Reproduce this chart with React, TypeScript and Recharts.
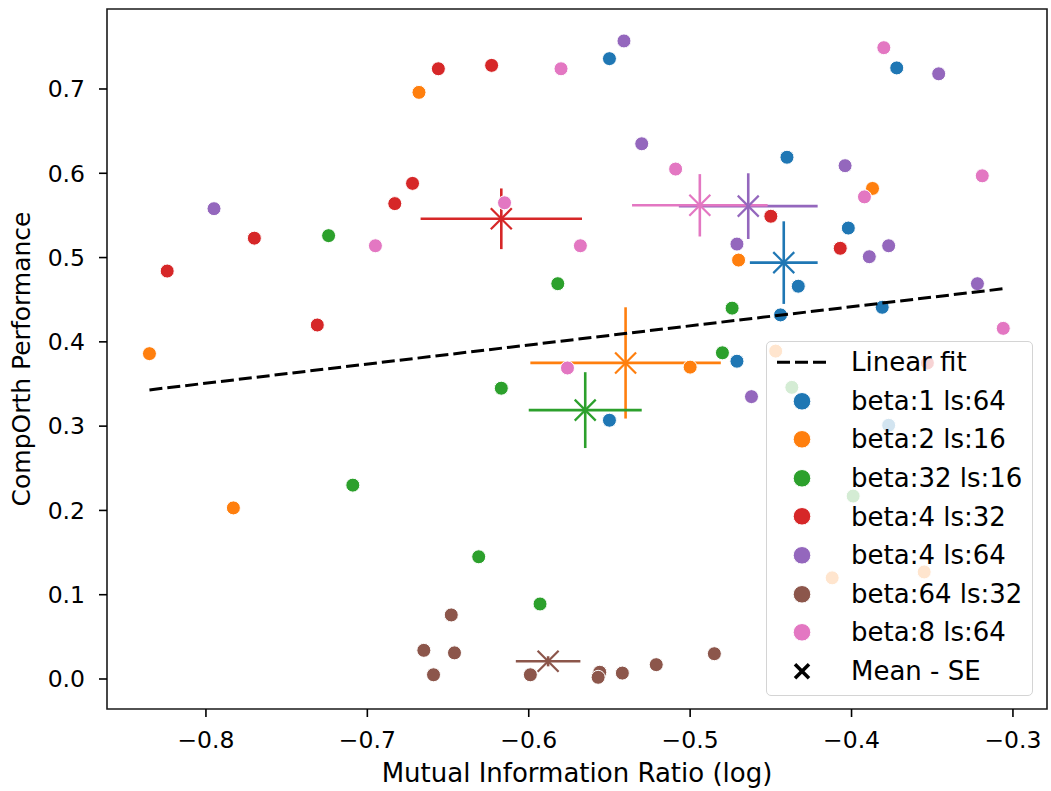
import {
  ErrorBar,
  Legend,
  ReferenceArea,
  Scatter,
  ScatterChart,
  XAxis,
  YAxis,
} from "recharts";

type Pt = [number, number];

// raw runs
const beta1ls64: Pt[] = [
  [-0.550, 0.736], [-0.372, 0.725], [-0.440, 0.619], [-0.402, 0.535], [-0.433, 0.466],
  [-0.444, 0.432], [-0.381, 0.441], [-0.471, 0.377], [-0.550, 0.307], [-0.377, 0.301],
];
const beta2ls16: Pt[] = [
  [-0.668, 0.696], [-0.387, 0.582], [-0.470, 0.497], [-0.835, 0.386], [-0.783, 0.203],
  [-0.500, 0.370], [-0.447, 0.389], [-0.412, 0.120], [-0.355, 0.127],
];
const beta32ls16: Pt[] = [
  [-0.724, 0.526], [-0.582, 0.469], [-0.474, 0.440], [-0.480, 0.387], [-0.617, 0.345],
  [-0.709, 0.230], [-0.631, 0.145], [-0.593, 0.089], [-0.437, 0.346], [-0.399, 0.217],
];
const beta4ls32: Pt[] = [
  [-0.656, 0.724], [-0.623, 0.728], [-0.672, 0.588], [-0.683, 0.564], [-0.770, 0.523],
  [-0.824, 0.484], [-0.731, 0.420], [-0.450, 0.549], [-0.407, 0.511], [-0.353, 0.375],
];
const beta4ls64: Pt[] = [
  [-0.795, 0.558], [-0.541, 0.757], [-0.346, 0.718], [-0.530, 0.635], [-0.404, 0.609],
  [-0.471, 0.516], [-0.377, 0.514], [-0.389, 0.501], [-0.322, 0.469], [-0.462, 0.335],
];
const beta64ls32: Pt[] = [
  [-0.648, 0.076], [-0.665, 0.034], [-0.646, 0.031], [-0.659, 0.005], [-0.599, 0.005],
  [-0.485, 0.030], [-0.521, 0.017], [-0.542, 0.007], [-0.556, 0.008], [-0.557, 0.002],
];
const beta8ls64: Pt[] = [
  [-0.580, 0.724], [-0.380, 0.749], [-0.509, 0.605], [-0.392, 0.572], [-0.319, 0.597],
  [-0.615, 0.565], [-0.695, 0.514], [-0.568, 0.514], [-0.576, 0.369], [-0.306, 0.416],
];

const groupNames = [
  "beta:1 ls:64",
  "beta:2 ls:16",
  "beta:32 ls:16",
  "beta:4 ls:32",
  "beta:4 ls:64",
  "beta:64 ls:32",
  "beta:8 ls:64",
];
const groupColors = ["#1f77b4", "#ff7f0e", "#2ca02c", "#d62728", "#9467bd", "#8c564b", "#e377c2"];
const groupPoints = [beta1ls64, beta2ls16, beta32ls16, beta4ls32, beta4ls64, beta64ls32, beta8ls64];

// mean and standard error per group
const meanX = [-0.442, -0.540, -0.565, -0.617, -0.464, -0.588, -0.494];
const meanY = [0.494, 0.375, 0.319, 0.546, 0.561, 0.021, 0.562];
const seX = [0.021, 0.059, 0.035, 0.050, 0.043, 0.020, 0.042];
const seY = [0.049, 0.066, 0.045, 0.036, 0.039, 0.006, 0.037];

// dashed linear fit end points
const fitX = [-0.835, -0.306];
const fitY = [0.343, 0.463];

const xTicks = [-0.8, -0.7, -0.6, -0.5, -0.4, -0.3];
const yTicks = [0, 0.1, 0.2, 0.3, 0.4, 0.5, 0.6, 0.7];
const xDomain: [number, number] = [-0.8613, -0.2789];
const yDomain: [number, number] = [-0.0356, 0.7949];

const font = "'DejaVu Sans', sans-serif";

const fmt = (v: number) => (v < 0 ? "\u2212" : "") + Math.abs(v).toFixed(1);

const Dot = (color: string) => (props: any) => (
  <circle cx={props.cx} cy={props.cy} r={7} fill={color} stroke="#fff" strokeWidth={1} />
);

const XMark = (color: string) => (props: any) => {
  const { cx, cy } = props;
  const s = 10.5;
  return (
    <g stroke={color} strokeWidth={2.2}>
      <line x1={cx - s} y1={cy - s} x2={cx + s} y2={cy + s} />
      <line x1={cx - s} y1={cy + s} x2={cx + s} y2={cy - s} />
    </g>
  );
};

const YLabel = (props: any) => {
  const vb = props.viewBox || { y: 9, height: 700 };
  const cx = 21;
  const cy = vb.y + vb.height / 2;
  return (
    <text
      x={cx}
      y={cy}
      textAnchor="middle"
      dominantBaseline="central"
      transform={`rotate(-90, ${cx}, ${cy})`}
      fontSize={25}
      fill="#000"
      fontFamily={font}
    >
      CompOrth Performance
    </text>
  );
};

function LegendBox() {
  const rowH = 38.6;
  return (
    <div
      style={{
        boxSizing: "border-box",
        width: 267,
        height: 355,
        border: "1.5px solid #d4d4d4",
        borderRadius: 5,
        background: "rgba(255,255,255,0.8)",
        paddingTop: 1,
        fontFamily: font,
        fontSize: 26,
        color: "#000",
      }}
    >
      <div style={{ display: "flex", alignItems: "center", height: rowH }}>
        <svg width={84} height={rowH}>
          <line x1={10} x2={62} y1={rowH / 2} y2={rowH / 2} stroke="#000" strokeWidth={3} strokeDasharray="13 5" />
        </svg>
        <span>Linear fit</span>
      </div>
      {groupNames.map((name, i) => (
        <div key={name} style={{ display: "flex", alignItems: "center", height: rowH }}>
          <svg width={84} height={rowH}>
            <circle cx={35} cy={rowH / 2} r={8.8} fill={groupColors[i]} stroke="#fff" strokeWidth={1} />
          </svg>
          <span>{name}</span>
        </div>
      ))}
      <div style={{ display: "flex", alignItems: "center", height: rowH }}>
        <svg width={84} height={rowH}>
          <g stroke="#000" strokeWidth={3.5}>
            <line x1={28} y1={rowH / 2 - 7} x2={42} y2={rowH / 2 + 7} />
            <line x1={28} y1={rowH / 2 + 7} x2={42} y2={rowH / 2 - 7} />
          </g>
        </svg>
        <span>Mean - SE</span>
      </div>
    </div>
  );
}

export default function App() {
  const fitLine = fitX.map((x, i) => ({ x, y: fitY[i] }));
  return (
    <div style={{ position: "absolute", left: 0, top: 0, fontFamily: font, background: "#fff" }}>
      <ScatterChart width={1051} height={791} margin={{ top: 9, right: 4, bottom: 0, left: 0 }}>
        <XAxis
          type="number"
          dataKey="x"
          domain={xDomain}
          ticks={xTicks}
          allowDataOverflow
          interval={0}
          height={82}
          axisLine={false}
          tickSize={8}
          tickMargin={14}
          tickLine={{ stroke: "#000", strokeWidth: 1.6 }}
          tick={{ fill: "#000", fontSize: 23.5, fontFamily: font }}
          tickFormatter={fmt}
          label={{
            value: "Mutual Information Ratio (log)",
            position: "insideBottom",
            offset: 9,
            fill: "#000",
            fontSize: 26,
            fontFamily: font,
          }}
        />
        <YAxis
          type="number"
          dataKey="y"
          domain={yDomain}
          ticks={yTicks}
          allowDataOverflow
          interval={0}
          width={107}
          axisLine={false}
          tickSize={8}
          tickMargin={14}
          tickLine={{ stroke: "#000", strokeWidth: 1.6 }}
          tick={{ fill: "#000", fontSize: 23.5, fontFamily: font }}
          tickFormatter={(v: number) => v.toFixed(1)}
          label={<YLabel />}
        />
        {groupPoints.map((pts, i) => (
          <Scatter
            key={groupNames[i]}
            data={pts.map(([x, y]) => ({ x, y }))}
            shape={Dot(groupColors[i])}
            isAnimationActive={false}
          />
        ))}
        <Scatter
          data={fitLine}
          line={{ stroke: "#000", strokeWidth: 3, strokeDasharray: "13 5" }}
          shape={() => <g />}
          isAnimationActive={false}
        />
        {groupNames.map((name, i) => (
          <Scatter
            key={"mean-" + name}
            data={[{ x: meanX[i], y: meanY[i], ex: seX[i], ey: seY[i] }]}
            shape={XMark(groupColors[i])}
            isAnimationActive={false}
          >
            <ErrorBar dataKey="ex" direction="x" width={0} stroke={groupColors[i]} strokeWidth={2.6} isAnimationActive={false} />
            <ErrorBar dataKey="ey" direction="y" width={0} stroke={groupColors[i]} strokeWidth={2.6} isAnimationActive={false} />
          </Scatter>
        ))}
        <ReferenceArea
          x1={xDomain[0]}
          x2={xDomain[1]}
          y1={yDomain[0]}
          y2={yDomain[1]}
          fill="none"
          fillOpacity={0}
          stroke="#1a1a1a"
          strokeWidth={1.6}
        />
        <Legend
          layout="vertical"
          align="center"
          verticalAlign="middle"
          wrapperStyle={{ left: 766, top: 341, width: 267, height: 355 }}
          content={() => <LegendBox />}
        />
      </ScatterChart>
    </div>
  );
}
